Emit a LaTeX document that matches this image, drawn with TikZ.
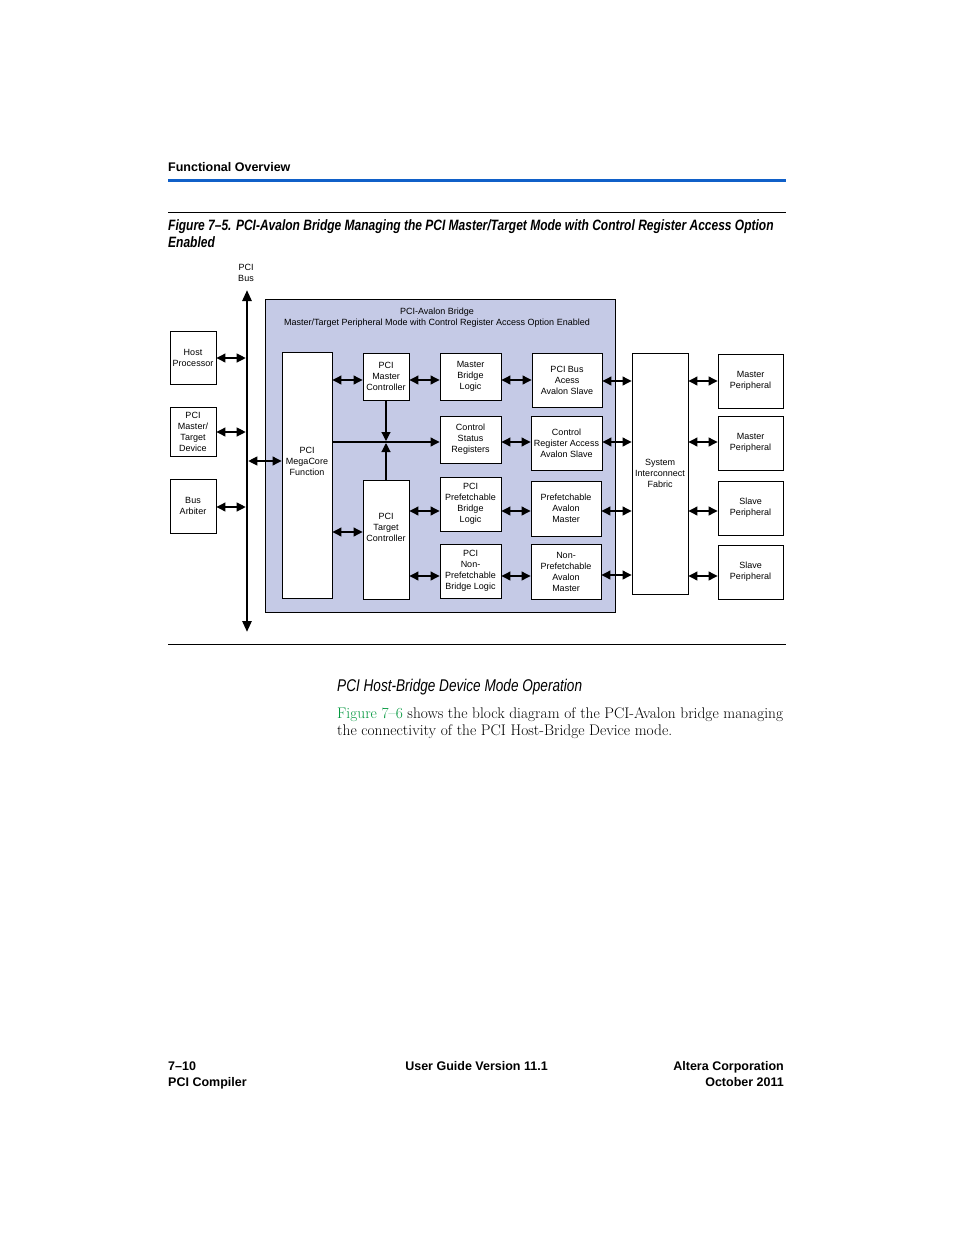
\documentclass[tikz,border=0pt]{standalone}
\usepackage{fontspec}
\newfontfamily\arialf{Liberation Sans}
\newfontfamily\condf{Liberation Sans}[FakeStretch=0.80]
\usetikzlibrary{arrows.meta}
\definecolor{bridgeblue}{RGB}{197,202,230}
\definecolor{rulblue}{RGB}{16,96,200}
\definecolor{linkgreen}{RGB}{0,150,60}
\tikzset{
  blk/.style={draw, fill=white, line width=0.9pt, inner sep=0pt, align=center,
    font=\arialf\fontsize{9}{11}\selectfont},
  txt/.style={inner sep=0pt, align=center, font=\arialf\fontsize{9}{11}\selectfont},
  dbl/.style={{Triangle[length=9pt,width=9pt]}-{Triangle[length=9pt,width=9pt]}, line width=1.1pt},
  sgl/.style={-{Triangle[length=9pt,width=9pt]}, line width=1.1pt},
  busl/.style={{Triangle[length=11pt,width=9pt]}-{Triangle[length=11pt,width=9pt]}, line width=2.6pt},
  hdr/.style={inner sep=0pt, anchor=base west, font=\arialf\bfseries\fontsize{12.5}{15}\selectfont},
}
\begin{document}
\begin{tikzpicture}[x=1pt,y=-1pt]
\useasboundingbox (0,0) rectangle (954,1235);
% header
\node[hdr] (header) at (168,171) {Functional Overview};
\draw[rulblue, line width=3pt] (168,180.5) -- (786,180.5);
\draw[line width=0.8pt] (168,212.5) -- (786,212.5);
\node[inner sep=0pt, anchor=base west, align=left, font=\condf\bfseries\itshape\fontsize{15}{16.5}\selectfont] (caption) at (168,247)
  {Figure 7–5. PCI-Avalon Bridge Managing the PCI Master/Target Mode with Control Register Access Option\\Enabled};
% bridge
\node[draw, fill=bridgeblue, line width=0.9pt, minimum width=350, minimum height=313, inner sep=0pt] (bridge) at (440,455.5) {};
\node[txt] (btitle) at (437,317.5) {PCI-Avalon Bridge\\Master/Target Peripheral Mode with Control Register Access Option Enabled};
% bus
\node[txt] (buslabel) at (246,273) {PCI\\Bus};
\coordinate (bustop) at (247,290);
\coordinate (busbot) at (247,632);
\draw[busl] (bustop) -- (busbot);
% left boxes
\node[blk, minimum width=46, minimum height=53] (host) at (193,357.5) {Host\\Processor};
\node[blk, minimum width=46, minimum height=49] (pmt) at (193,431.5) {PCI\\Master/\\Target\\Device};
\node[blk, minimum width=46, minimum height=54] (arb) at (193,506) {Bus\\Arbiter};
% inner boxes
\node[blk, minimum width=50, minimum height=246] (mega) at (307,475) {};
\node[txt] (megatext) at (307,461) {PCI\\MegaCore\\Function};
\node[blk, minimum width=46, minimum height=47] (mctrl) at (386,376.5) {PCI\\Master\\Controller};
\node[blk, minimum width=46, minimum height=119] (tctrl) at (386,539.5) {};
\node[txt] (tctrltext) at (386,527) {PCI\\Target\\Controller};
\node[blk, minimum width=61, minimum height=47] (mbl) at (470.5,376.5) {Master\\Bridge\\Logic};
\node[blk, minimum width=61, minimum height=47] (csr) at (470.5,439.5) {Control\\Status\\Registers};
\node[blk, minimum width=61, minimum height=54] (pfbl) at (470.5,504) {PCI\\Prefetchable\\Bridge\\Logic};
\node[blk, minimum width=61, minimum height=54] (npbl) at (470.5,571) {PCI\\Non-\\Prefetchable\\Bridge Logic};
\node[blk, minimum width=70, minimum height=54] (pbas) at (567,380) {PCI Bus\\Acess\\Avalon Slave};
\node[blk, minimum width=71, minimum height=54] (cras) at (566.5,443) {Control\\Register Access\\Avalon Slave};
\node[blk, minimum width=70, minimum height=55] (pam) at (566,508.5) {Prefetchable\\Avalon\\Master};
\node[blk, minimum width=70, minimum height=55] (npam) at (566,571.5) {Non-\\Prefetchable\\Avalon\\Master};
% right
\node[blk, minimum width=56, minimum height=241] (sif) at (660,473.5) {System\\Interconnect\\Fabric};
\node[blk, minimum width=65, minimum height=54] (mp1) at (750.5,381) {Master\\Peripheral};
\node[blk, minimum width=65, minimum height=54] (mp2) at (750.5,443) {Master\\Peripheral};
\node[blk, minimum width=65, minimum height=54] (sp1) at (750.5,508) {Slave\\Peripheral};
\node[blk, minimum width=65, minimum height=54] (sp2) at (750.5,572) {Slave\\Peripheral};
% bus arrows
\draw[dbl] (host.east |- 0,358) -- ([xshift=-1.3pt]bustop |- 0,358);
\draw[dbl] (pmt.east |- 0,432) -- ([xshift=-1.3pt]bustop |- 0,432);
\draw[dbl] (arb.east |- 0,507) -- ([xshift=-1.3pt]bustop |- 0,507);
\draw[dbl] ([xshift=1.3pt]bustop |- 0,461) -- (mega.west |- 0,461);
% inner arrows
\draw[dbl] (mega.east |- 0,380) -- (mctrl.west |- 0,380);
\draw[dbl] (mctrl.east |- 0,380) -- (mbl.west |- 0,380);
\draw[dbl] (mbl.east |- 0,380) -- (pbas.west |- 0,380);
\draw[dbl] (pbas.east |- 0,381) -- (sif.west |- 0,381);
\draw[sgl] (mega.east |- 0,442) -- (csr.west |- 0,442);
\draw[sgl] (mctrl.south) -- (mctrl.south |- 0,441);
\draw[sgl] (tctrl.north) -- (tctrl.north |- 0,443);
\draw[dbl] (csr.east |- 0,442) -- (cras.west |- 0,442);
\draw[dbl] (cras.east |- 0,442) -- (sif.west |- 0,442);
\draw[dbl] (mega.east |- 0,532) -- (tctrl.west |- 0,532);
\draw[dbl] (tctrl.east |- 0,511) -- (pfbl.west |- 0,511);
\draw[dbl] (tctrl.east |- 0,576) -- (npbl.west |- 0,576);
\draw[dbl] (pfbl.east |- 0,511) -- (pam.west |- 0,511);
\draw[dbl] (npbl.east |- 0,576) -- (npam.west |- 0,576);
\draw[dbl] (pam.east |- 0,511) -- (sif.west |- 0,511);
\draw[dbl] (npam.east |- 0,575) -- (sif.west |- 0,575);
\draw[dbl] (sif.east |- 0,381) -- (mp1.west |- 0,381);
\draw[dbl] (sif.east |- 0,442) -- (mp2.west |- 0,442);
\draw[dbl] (sif.east |- 0,511) -- (sp1.west |- 0,511);
\draw[dbl] (sif.east |- 0,576) -- (sp2.west |- 0,576);
% bottom rule and text
\draw[line width=0.8pt] (168,644.5) -- (786,644.5);
\node[inner sep=0pt, anchor=base west, font=\condf\itshape\fontsize{17}{18}\selectfont] (section) at (337,691) {PCI Host-Bridge Device Mode Operation};
\node[inner sep=0pt, anchor=base west, align=left, font=\fontsize{15.4}{17}\selectfont] (body) at (337,735)
  {\textcolor{linkgreen}{Figure 7–6} shows the block diagram of the PCI-Avalon bridge managing\\the connectivity of the PCI Host-Bridge Device mode.};
% footer
\node[hdr] (pagenum) at (168,1070) {7–10};
\node[hdr] (book) at (168,1086) {PCI Compiler};
\node[hdr, anchor=base] (version) at (476.5,1070) {User Guide Version 11.1};
\node[hdr, anchor=base east] (corp) at (784,1070) {Altera Corporation};
\node[hdr, anchor=base east] (date) at (784,1086) {October 2011};
\end{tikzpicture}
\end{document}
